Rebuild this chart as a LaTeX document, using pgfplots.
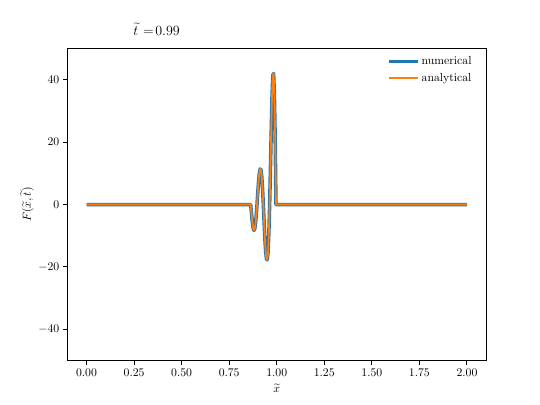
\documentclass[border=0pt]{standalone}
\usepackage{pgfplots}
\usepackage{pgfplotstable}
\pgfplotsset{compat=1.18}
\definecolor{mplblue}{HTML}{1F77B4}
\definecolor{mplorange}{HTML}{FF7F0E}

% wave packet, flat zero elsewhere
\pgfplotstableread{
x F
0.0000 0.00
0.8630 0.00
0.8672 -2.80
0.8713 -5.37
0.8755 -7.39
0.8796 -8.30
0.8838 -7.95
0.8879 -6.36
0.8921 -3.56
0.8963 0.00
0.9004 3.87
0.9046 7.42
0.9087 10.16
0.9129 11.40
0.9170 11.18
0.9212 9.05
0.9254 5.17
0.9295 0.00
0.9337 -5.75
0.9378 -11.17
0.9420 -15.34
0.9461 -17.40
0.9503 -17.74
0.9545 -15.20
0.9586 -9.19
0.9628 0.00
0.9669 11.49
0.9711 23.68
0.9752 34.65
0.9794 41.50
0.9836 42.04
0.9877 35.35
0.9919 21.07
0.9960 0.00
2.0000 0.00
}\wavedata

\begin{document}
\begin{tikzpicture}
\useasboundingbox (-57.6pt,-38.0pt) rectangle (403.2pt,307.6pt);
\begin{axis}[
  at={(0pt,0pt)}, anchor=south west,
  scale only axis, width=357.1pt, height=266.1pt,
  xmin=-0.1, xmax=2.1, ymin=-50, ymax=50,
  xtick={0,0.25,0.5,0.75,1,1.25,1.5,1.75,2},
  ytick={-40,-20,0,20,40},
  xticklabel style={/pgf/number format/fixed, /pgf/number format/fixed zerofill,
                    /pgf/number format/precision=2},
  tick align=outside, tick pos=left,
  major tick length=3.5pt,
  every tick/.style={black, line width=0.8pt},
  axis line style={line width=0.8pt},
  tick label style={font=\normalsize},
  xlabel={$\widetilde{x}$},
  ylabel={$F(\widetilde{x},\widetilde{t})$},
  ylabel style={yshift=-3pt},
  legend style={draw=none, fill=none, at={(0.98,0.99)}, anchor=north east,
                font=\normalsize, row sep=1.5pt, cells={anchor=west}},
  legend image code/.code={\draw[#1] (0pt,0pt) -- (24pt,0pt);},
  after end axis/.code={
    \node[font=\large] at (rel axis cs:0.213,1.0625) {$\widetilde{t}$ $=\!0.99$};
  },
]
\addplot[mplblue, line width=3pt, line join=round] table[x=x, y=F] {\wavedata};
\addlegendentry{numerical}
\addplot[mplorange, line width=1.5pt, line join=round] table[x=x, y=F] {\wavedata};
\addlegendentry{analytical}
\end{axis}
\end{tikzpicture}
\end{document}
